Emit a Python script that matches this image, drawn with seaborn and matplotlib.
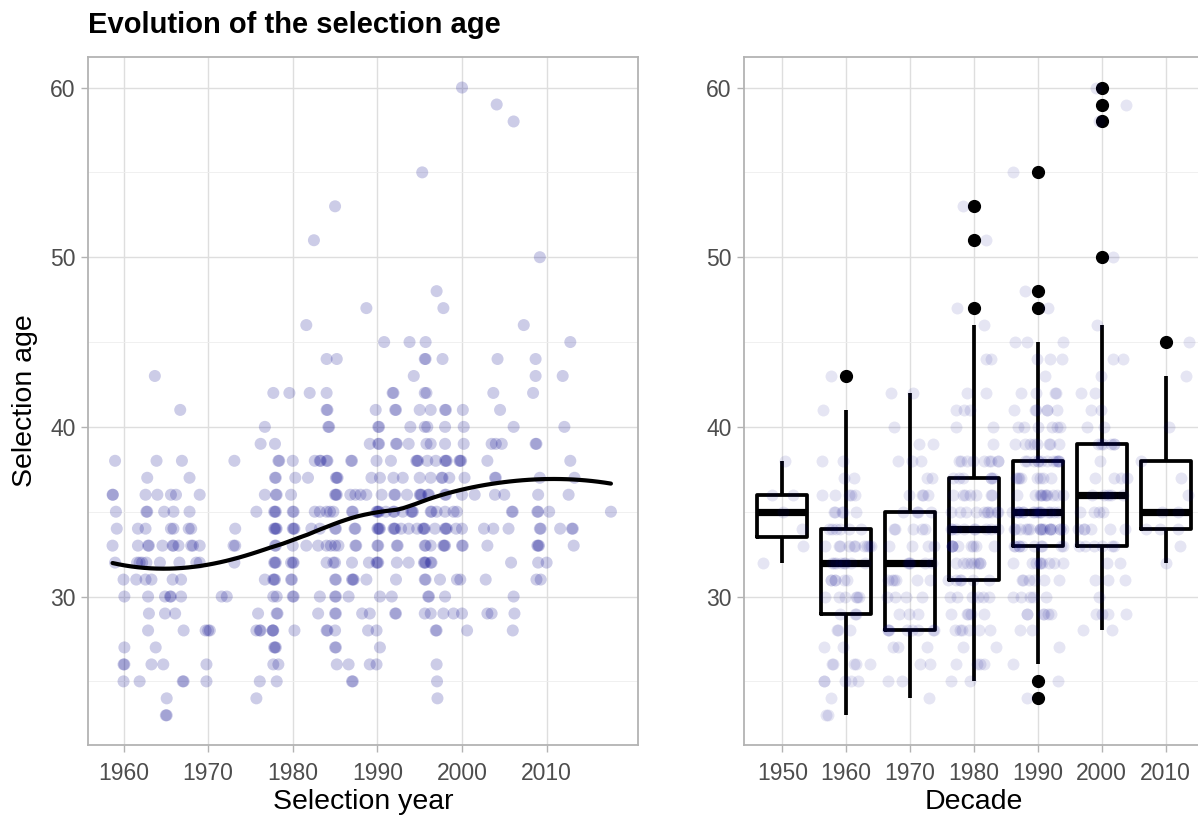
import numpy as np
import pandas as pd
import matplotlib
matplotlib.use("Agg")
import matplotlib.pyplot as plt
import seaborn as sns
from matplotlib.ticker import MultipleLocator

# selection year and age at selection, one pair of lists per decade
year_1950 = [1959.0, 1958.7, 1958.75, 1959.1, 1959.2, 1958.7, 1959.0]
age_1950 = [38, 36, 36, 35, 34, 33, 32]

year_1960 = [1963.7, 1966.7, 1963.9, 1966.9, 1962.8, 1967.8,
             1962.6, 1964.0, 1965.6, 1966.2, 1969.0,
             1962.7, 1962.8, 1964.8, 1965.9, 1967.8,
             1961.7, 1962.6, 1965.6, 1965.9, 1967.7, 1968.0,
             1961.7, 1962.9, 1963.0, 1964.6, 1965.8, 1965.9, 1968.0, 1968.2, 1969.0, 1966.5,
             1961.6, 1961.9, 1962.2, 1962.7, 1966.6, 1968.6, 1969.0, 1964.3,
             1960.0, 1962.6, 1963.3, 1965.8, 1966.8, 1961.5,
             1960.1, 1962.9, 1964.9, 1965.5, 1965.6, 1966.8,
             1963.0, 1964.9, 1966.1,
             1962.9, 1967.1, 1969.7,
             1960.1, 1963.8,
             1960.0, 1960.1, 1963.3, 1964.7, 1969.8,
             1960.0, 1961.9, 1967.0, 1967.1, 1969.8,
             1965.1,
             1965.0, 1965.1]
age_1960 = [43, 41, 38, 38, 37, 37,
            36, 36, 36, 36, 36,
            35, 35, 35, 35, 35,
            34, 34, 34, 34, 34, 34,
            33, 33, 33, 33, 33, 33, 33, 33, 33, 33,
            32, 32, 32, 32, 32, 32, 32, 32,
            31, 31, 31, 31, 31, 31,
            30, 30, 30, 30, 30, 30,
            29, 29, 29,
            28, 28, 28,
            27, 27,
            26, 26, 26, 26, 26,
            25, 25, 25, 25, 25,
            24,
            23, 23]

year_1970 = [1977.7, 1979.6, 1976.7, 1976.2, 1977.9,
             1973.1, 1978.3, 1978.4, 1977.9, 1978.0,
             1976.7, 1978.0, 1978.1, 1979.8,
             1975.7, 1977.8, 1977.9, 1978.0,
             1973.2, 1977.8, 1977.9, 1978.0, 1978.1,
             1973.0, 1973.2, 1977.9, 1978.0,
             1977.8, 1977.9, 1978.0, 1973.1, 1979.8,
             1976.7, 1977.7, 1977.8, 1977.9, 1979.8, 1979.9,
             1971.6, 1972.2, 1977.7, 1978.1,
             1975.9, 1978.1, 1978.2,
             1970.0, 1970.2, 1975.7, 1976.1, 1976.2, 1977.6, 1977.7, 1977.65,
             1977.8, 1977.9, 1978.0,
             1977.7, 1978.3,
             1976.1, 1978.1,
             1975.7]
age_1970 = [42, 42, 40, 39, 39,
            38, 38, 38, 37, 37,
            36, 36, 36, 36,
            35, 35, 35, 35,
            34, 34, 34, 34, 34,
            33, 33, 33, 33,
            32, 32, 32, 32, 32,
            31, 31, 31, 31, 31, 31,
            30, 30, 30, 30,
            29, 29, 29,
            28, 28, 28, 28, 28, 28, 28, 28,
            27, 27, 27,
            26, 26,
            25, 25,
            24]

year_1980 = [1985.0, 1982.5, 1988.7, 1981.6, 1984.0, 1985.2, 1982.0, 1984.0,
             1984.0, 1984.1, 1989.8, 1984.2, 1984.3, 1989.1,
             1980.0, 1982.6, 1983.2, 1983.3, 1984.0, 1984.1, 1986.9, 1987.0, 1989.9,
             1980.3, 1981.8, 1985.1, 1985.2, 1985.3, 1989.3,
             1985.0, 1985.1, 1985.2, 1986.8, 1987.4, 1988.0, 1988.7,
             1980.0, 1980.1, 1982.6, 1983.2, 1984.0, 1984.4, 1984.8, 1987.0, 1987.1, 1989.9,
             1980.0, 1980.1, 1980.2, 1982.2, 1983.2, 1985.0, 1985.1, 1987.3, 1987.4,
             1980.0, 1981.6, 1983.0, 1984.0, 1984.5, 1985.0, 1985.4, 1987.4, 1987.5,
             1980.0, 1980.1, 1984.0, 1984.8, 1985.0, 1987.0, 1989.0, 1989.9,
             1985.0, 1985.1, 1987.0, 1987.1, 1987.2, 1988.7,
             1980.0, 1980.1, 1983.2, 1985.0, 1985.1, 1986.6,
             1983.0, 1985.0, 1985.1, 1988.2, 1989.1,
             1980.2, 1984.0, 1984.1, 1985.0, 1988.9, 1989.9,
             1985.0, 1985.1,
             1985.2, 1986.6, 1989.1, 1989.9,
             1987.0, 1987.1]
age_1980 = [53, 51, 47, 46, 44, 44, 42, 42,
            41, 41, 41, 40, 40, 39,
            38, 38, 38, 38, 38, 38, 38, 38, 38,
            37, 37, 37, 37, 37, 37,
            36, 36, 36, 36, 36, 36, 36,
            35, 35, 35, 35, 35, 35, 35, 35, 35, 35,
            34, 34, 34, 34, 34, 34, 34, 34, 34,
            33, 33, 33, 33, 33, 33, 33, 33, 33,
            32, 32, 32, 32, 32, 32, 32, 32,
            31, 31, 31, 31, 31, 31,
            30, 30, 30, 30, 30, 30,
            29, 29, 29, 29, 29,
            28, 28, 28, 28, 28, 28,
            27, 27,
            26, 26, 26, 26,
            25, 25]

year_1990 = [1995.3, 1997.0, 1997.8, 1990.8, 1993.8, 1995.7,
             1995.6, 1995.7, 1997.7, 1994.3,
             1991.8, 1991.9, 1995.6, 1995.8,
             1992.1, 1992.2, 1995.0, 1996.3, 1998.0, 1998.1,
             1990.1, 1990.2, 1993.9, 1995.6, 1995.9, 1998.0,
             1990.1, 1990.2, 1992.2, 1992.3, 1993.7, 1995.8, 1996.3, 1998.0,
             1991.6, 1994.6, 1994.7, 1994.8, 1995.9, 1996.9, 1998.0, 1998.1, 1998.2, 1999.8, 1999.9, 1999.7,
             1991.9, 1995.0, 1996.3, 1997.6, 1997.7, 1990.3, 1993.0, 1998.5,
             1992.0, 1992.1, 1995.0, 1995.1, 1995.2, 1996.0, 1996.1, 1998.0, 1998.1, 1990.5, 1993.5,
             1990.0, 1990.1, 1990.2, 1991.9, 1992.0, 1994.0, 1994.1, 1994.2,
             1996.3, 1996.4, 1998.0, 1999.0, 1999.4, 1993.0, 1997.0, 1991.0,
             1990.0, 1990.1, 1990.2, 1990.3, 1991.9, 1992.0, 1992.1, 1993.7, 1994.7,
             1995.4, 1995.5, 1995.6, 1998.0, 1998.1, 1998.2, 1992.8, 1996.8, 1999.3,
             1990.0, 1990.1, 1992.3, 1992.4, 1995.6, 1995.7, 1996.3, 1997.8, 1997.9, 1998.0,
             1990.0, 1990.1, 1992.3, 1993.7, 1995.5, 1995.6, 1995.7, 1996.3, 1996.4,
             1992.2, 1995.6, 1995.7, 1997.4, 1999.4, 1999.8,
             1990.3, 1991.7, 1996.0, 1996.1, 1998.0,
             1992.1, 1992.2, 1995.6, 1996.3, 1997.8, 1999.0,
             1996.9, 1997.0,
             1990.3, 1997.0, 1997.05, 1997.1]
age_1990 = [55, 48, 47, 45, 45, 45,
            44, 44, 44, 43,
            42, 42, 42, 42,
            41, 41, 41, 41, 41, 41,
            40, 40, 40, 40, 40, 40,
            39, 39, 39, 39, 39, 39, 39, 39,
            38, 38, 38, 38, 38, 38, 38, 38, 38, 38, 38, 38,
            37, 37, 37, 37, 37, 37, 37, 37,
            36, 36, 36, 36, 36, 36, 36, 36, 36, 36, 36,
            35, 35, 35, 35, 35, 35, 35, 35,
            35, 35, 35, 35, 35, 35, 35, 35,
            34, 34, 34, 34, 34, 34, 34, 34, 34,
            34, 34, 34, 34, 34, 34, 34, 34, 34,
            33, 33, 33, 33, 33, 33, 33, 33, 33, 33,
            32, 32, 32, 32, 32, 32, 32, 32, 32,
            31, 31, 31, 31, 31, 31,
            30, 30, 30, 30, 30,
            29, 29, 29, 29, 29, 29,
            28, 28,
            27, 26, 25, 24]

year_2000 = [2000.0, 2004.1, 2006.1, 2009.2, 2007.3, 2004.2, 2008.7, 2008.7,
             2003.7, 2008.4, 2000.1, 2004.5, 2000.2, 2006.1,
             2000.2, 2003.5, 2004.0, 2004.7, 2008.7, 2008.8,
             2003.0,
             2000.3, 2003.9, 2004.0, 2009.2,
             2000.0, 2003.9, 2009.0, 2001.5, 2005.0,
             2005.9, 2006.0, 2008.9, 2009.0,
             2000.0, 2002.6, 2003.7, 2005.5, 2009.2, 2009.3,
             2000.0, 2000.1, 2003.0, 2008.9, 2009.0, 2009.1,
             2005.8, 2009.0,
             2002.8, 2008.8, 2009.3,
             2006.1,
             2000.0, 2003.0, 2003.5, 2006.2,
             2000.6, 2006.0]
age_2000 = [60, 59, 58, 50, 46, 44, 44, 43,
            42, 42, 41, 41, 40, 40,
            39, 39, 39, 39, 39, 39,
            38,
            37, 37, 37, 37,
            36, 36, 36, 36, 36,
            35, 35, 35, 35,
            34, 34, 34, 34, 34, 34,
            33, 33, 33, 33, 33, 33,
            32, 32,
            31, 31, 31,
            30,
            29, 29, 29, 29,
            28, 28]

year_2010 = [2012.8, 2011.9, 2012.1, 2012.8, 2013.3, 2012.6, 2010.3,
             2017.6, 2011.6, 2013.0, 2013.1, 2013.2, 2010.0]
age_2010 = [45, 43, 40, 38, 37, 36, 35, 35, 34, 34, 34, 33, 32]

decade_order = ["1950", "1960", "1970", "1980", "1990", "2000", "2010"]

years = year_1950 + year_1960 + year_1970 + year_1980 + year_1990 + year_2000 + year_2010
ages = age_1950 + age_1960 + age_1970 + age_1980 + age_1990 + age_2000 + age_2010

df = pd.DataFrame({"year": years, "age": ages})
df["decade"] = ((df["year"] // 10) * 10).astype(int).astype(str)


# local quadratic regression (loess, span 0.75) like geom_smooth's default
def loess(x, y, grid, span=0.75):
    x = np.asarray(x, float)
    y = np.asarray(y, float)
    k = int(np.ceil(span * len(x)))
    fit = []
    for x0 in grid:
        d = np.abs(x - x0)
        h = np.sort(d)[k - 1]
        w = np.clip(1 - (d / h) ** 3, 0, None) ** 3
        X = np.column_stack([np.ones_like(x), x - x0, (x - x0) ** 2])
        sw = np.sqrt(w)
        beta = np.linalg.lstsq(X * sw[:, None], y * sw, rcond=None)[0]
        fit.append(beta[0])
    return np.array(fit)


smooth_x = np.linspace(df["year"].min(), df["year"].max(), 80)
smooth_y = loess(df["year"], df["age"], smooth_x)

sns.set_style("whitegrid")
plt.rcParams["font.family"] = ["Liberation Sans", "DejaVu Sans"]

W, H = 1198, 816
fig = plt.figure(figsize=(W / 100, H / 100), dpi=100)

border = "#b3b3b3"
grid_major = "#dedede"
grid_minor = "#eeeeee"
txt = "#4d4d4d"


def style_axes(ax):
    for sp in ax.spines.values():
        sp.set_color(border)
        sp.set_linewidth(1.3)
    ax.yaxis.set_major_locator(MultipleLocator(10))
    ax.yaxis.set_minor_locator(MultipleLocator(5))
    ax.grid(which="major", color=grid_major, linewidth=1.0)
    ax.grid(which="minor", axis="y", color=grid_minor, linewidth=0.6)
    ax.grid(which="minor", axis="x", visible=False)
    ax.tick_params(which="major", length=5, width=1, color=border,
                   labelcolor=txt, labelsize=16.5, pad=4, bottom=True, left=True)
    ax.tick_params(axis="x", which="major", pad=7)
    ax.tick_params(which="minor", length=0)
    ax.set_axisbelow(True)
    ax.set_ylim(21.25, 61.8)


# left: selection age by year with a smooth trend
ax1 = fig.add_axes([88 / W, (H - 745) / H, 550 / W, 688 / H])
sns.scatterplot(data=df, x="year", y="age", color="darkblue", alpha=0.2,
                s=75, edgecolor="none", ax=ax1)
sns.lineplot(x=smooth_x, y=smooth_y, color="black", linewidth=3, ax=ax1)
style_axes(ax1)
ax1.set_xlim(1955.8, 2020.8)
ax1.set_xticks([1960, 1970, 1980, 1990, 2000, 2010])
ax1.set_xlabel("Selection year", fontsize=20.5, color="black", labelpad=3)
ax1.set_ylabel("Selection age", fontsize=20.5, color="black", labelpad=9)

# right: boxplot per decade with jittered points
ax2 = fig.add_axes([744 / W, (H - 745) / H, 460 / W, 688 / H])
sns.boxplot(data=df, x="decade", y="age", order=decade_order, fill=False,
            color="black", width=0.78, linewidth=2.7, showcaps=False,
            medianprops=dict(linewidth=5.2),
            flierprops=dict(marker="o", markerfacecolor="black",
                            markeredgecolor="black", markersize=8.5),
            ax=ax2)
np.random.seed(3)
sns.stripplot(data=df, x="decade", y="age", order=decade_order,
              color="darkblue", alpha=0.1, size=8.6, jitter=0.4,
              linewidth=0, ax=ax2)
style_axes(ax2)
ax2.set_xlim(-0.6, 6.6)
ax2.set_xlabel("Decade", fontsize=20.5, color="black", labelpad=3)
ax2.set_ylabel("")

fig.text(88 / W, 1 - 33 / H, "Evolution of the selection age", color="black",
         fontsize=21, fontweight="bold", ha="left", va="baseline")

fig.savefig("out.png", dpi=100)
